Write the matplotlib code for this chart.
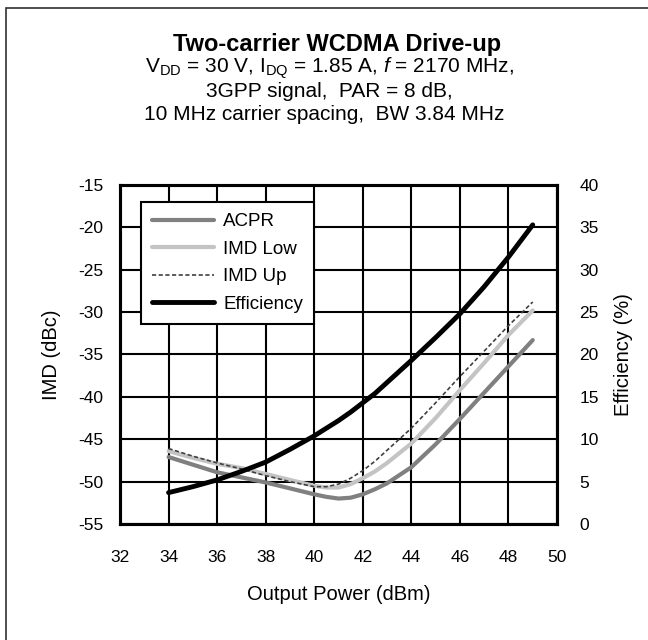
import matplotlib
matplotlib.use("Agg")
import matplotlib.pyplot as plt
from matplotlib.patches import Rectangle

plt.rcParams['font.family'] = ['Liberation Sans', 'DejaVu Sans']
plt.rcParams['mathtext.fontset'] = 'custom'
plt.rcParams['mathtext.rm'] = 'Liberation Sans'
plt.rcParams['mathtext.it'] = 'Liberation Sans:italic'
plt.rcParams['axes.unicode_minus'] = False

# output power (dBm)
pout = [34, 35, 36, 37, 38, 39, 40, 40.5, 41, 41.5, 42, 42.5, 43, 44, 45, 46, 47, 48, 49]
# IMD / ACPR (dBc)
acpr = [-47.1, -48.0, -48.9, -49.5, -50.1, -50.8, -51.5, -51.8, -52.0, -51.9, -51.5,
        -50.9, -50.2, -48.3, -45.6, -42.6, -39.5, -36.4, -33.3]
imd_low = [-46.4, -47.2, -47.9, -48.4, -49.1, -49.8, -50.5, -50.7, -50.7, -50.3, -49.6,
           -48.8, -47.8, -45.5, -42.5, -39.2, -36.0, -32.7, -29.8]
imd_up = [-46.1, -47.0, -47.8, -48.5, -49.3, -50.0, -50.6, -50.6, -50.3, -49.6, -48.7,
          -47.6, -46.3, -43.7, -40.7, -37.6, -34.6, -31.6, -28.8]
# drain efficiency (%)
eff = [3.7, 4.4, 5.2, 6.2, 7.3, 8.8, 10.4, 11.3, 12.2, 13.2, 14.3, 15.4, 16.7, 19.3,
       22.0, 24.8, 28.0, 31.5, 35.3]

fig = plt.figure(figsize=(6.48, 6.40), dpi=100)
ax = fig.add_axes([0.1852, 0.1813, 0.6744, 0.5296])
ax2 = ax.twinx()

l1, = ax.plot(pout, acpr, color='#808080', lw=3.0, solid_capstyle='round', label='ACPR')
l2, = ax.plot(pout, imd_low, color='#c4c4c4', lw=3.0, solid_capstyle='round', label='IMD Low')
l3, = ax.plot(pout, imd_up, color='#404040', lw=1.2, dashes=(2.5, 1.5), label='IMD Up')
l4, = ax2.plot(pout, eff, color='black', lw=3.5, solid_capstyle='round', label='Efficiency')

ax.set_xlim(32, 50)
ax.set_ylim(-55, -15)
ax2.set_ylim(0, 40)
ax.set_xticks(range(32, 51, 2))
ax.set_yticks(range(-55, -14, 5))
ax2.set_yticks(range(0, 41, 5))
ax.grid(True, color='black', lw=1.5)
ax.set_axisbelow(True)

for a in (ax, ax2):
    a.tick_params(length=0, labelsize=12.5)
    for s in a.spines.values():
        s.set_linewidth(2.2)
        s.set_color('black')
ax.tick_params(axis='x', pad=19)
ax.tick_params(axis='y', pad=12)
ax2.tick_params(axis='y', pad=16)

ax.set_xlabel('Output Power (dBm)', fontsize=14.5, labelpad=14)
ax.set_ylabel('IMD (dBc)', fontsize=14.5, labelpad=12)
ax2.set_ylabel('Efficiency (%)', fontsize=14.5, labelpad=11)

leg = ax2.legend(handles=[l1, l2, l3, l4], loc='upper left',
                 bbox_to_anchor=(0.047, 0.95), borderaxespad=0, fontsize=13.5,
                 frameon=True, fancybox=False, framealpha=1, edgecolor='black',
                 handlelength=3.3, handletextpad=0.5, labelspacing=0.55,
                 borderpad=0.6)
leg.get_frame().set_linewidth(1.5)

fig.text(0.52, 0.931, 'Two-carrier WCDMA Drive-up', ha='center', va='center',
         fontsize=17, fontweight='bold')
fig.text(0.508, 0.893, r'V$_{\mathrm{DD}}$ = 30 V, I$_{\mathrm{DQ}}$ = 1.85 A, $\mathit{f}$ = 2170 MHz,',
         ha='center', va='center', fontsize=15)
fig.text(0.508, 0.857, '3GPP signal,  PAR = 8 dB,', ha='center', va='center', fontsize=15)
fig.text(0.5, 0.821, '10 MHz carrier spacing,  BW 3.84 MHz', ha='center', va='center',
         fontsize=15)

fig.patches.append(Rectangle((6 / 648, -0.1), 1.2, 1.1 - 8 / 640, transform=fig.transFigure,
                             fill=False, edgecolor='#303030', lw=1.2))

fig.savefig('out.png', dpi=100, facecolor='white')
